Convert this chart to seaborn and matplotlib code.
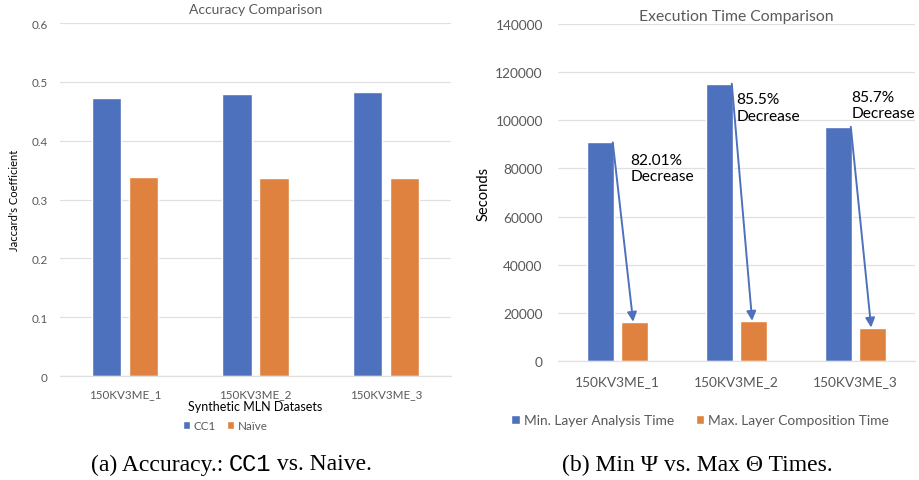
import matplotlib
matplotlib.use('Agg')
import matplotlib.pyplot as plt
import seaborn as sns
import pandas as pd

# data
datasets = ['150KV3ME_1', '150KV3ME_2', '150KV3ME_3']
acc_methods = ['CC1', 'Naïve']
acc_cc1 = [0.473, 0.480, 0.483]
acc_naive = [0.339, 0.337, 0.337]

time_series_names = ['Min. Layer Analysis Time', 'Max. Layer Composition Time']
time_min_layer = [90800, 115200, 97300]
time_max_layer = [16300, 16700, 13900]
decrease_labels = ['82.01%\nDecrease', '85.5%\nDecrease', '85.7%\nDecrease']

BLUE = '#4E71BE'
ORANGE = '#E0823F'
GREY = '#595959'
GRID = '#e0e0e0'

sns.set_theme(style='white')
plt.rcParams['font.family'] = ['Lato', 'DejaVu Sans']

acc_df = pd.DataFrame({
    'dataset': datasets * 2,
    'method': [acc_methods[0]] * 3 + [acc_methods[1]] * 3,
    'value': acc_cc1 + acc_naive,
})
time_df = pd.DataFrame({
    'dataset': datasets * 2,
    'series': [time_series_names[0]] * 3 + [time_series_names[1]] * 3,
    'value': time_min_layer + time_max_layer,
})

fig = plt.figure(figsize=(9.19, 4.81), dpi=100)
fig.patch.set_facecolor('white')

ax1 = fig.add_axes([0.0653, 0.2162, 0.4255, 0.7339])
ax2 = fig.add_axes([0.6072, 0.2474, 0.3885, 0.7006])


def style_axis(ax, tick_size):
    for side in ['top', 'right', 'left']:
        ax.spines[side].set_visible(False)
    ax.spines['bottom'].set_color(GRID)
    ax.spines['bottom'].set_linewidth(0.9)
    ax.yaxis.grid(True, color=GRID, linewidth=0.9)
    ax.set_axisbelow(True)
    ax.tick_params(axis='both', length=0, labelcolor=GREY, labelsize=tick_size)


# (a) accuracy
sns.barplot(data=acc_df, x='dataset', y='value', hue='method',
            palette=[BLUE, ORANGE], width=0.57, gap=0.21, ax=ax1,
            saturation=1, legend=True)
ax1.set_ylim(0, 0.6)
ax1.set_yticks([0, 0.1, 0.2, 0.3, 0.4, 0.5, 0.6])
ax1.set_yticklabels(['0', '0.1', '0.2', '0.3', '0.4', '0.5', '0.6'])
style_axis(ax1, 8.4)
ax1.tick_params(axis='y', pad=9)
ax1.tick_params(axis='x', pad=9)
ax1.set_title('Accuracy Comparison', color=GREY, fontsize=10, pad=7)
ax1.set_xlabel('Synthetic MLN Datasets', color='black', fontsize=9, labelpad=0)
ax1.set_ylabel("Jaccard's Coefficient", color='black', fontsize=8, labelpad=8)
h, l = ax1.get_legend_handles_labels()
ax1.legend(h, l, loc='center', bbox_to_anchor=(0.245, 0.113),
           bbox_transform=fig.transFigure, ncol=2, frameon=False,
           fontsize=8.4, labelcolor=GREY, handlelength=0.6, handleheight=0.6,
           handletextpad=0.3, columnspacing=1.0)

# (b) execution time
sns.barplot(data=time_df, x='dataset', y='value', hue='series',
            palette=[BLUE, ORANGE], width=0.57, gap=0.21, ax=ax2,
            saturation=1, legend=True)
ax2.set_ylim(0, 140000)
ax2.set_yticks(range(0, 140001, 20000))
style_axis(ax2, 9.9)
ax2.tick_params(axis='y', pad=11)
ax2.tick_params(axis='x', pad=10)
ax2.set_title('Execution Time Comparison', color=GREY, fontsize=11.3, pad=3)
ax2.set_xlabel('')
ax2.set_ylabel('Seconds', color='black', fontsize=10.6, labelpad=3)
h, l = ax2.get_legend_handles_labels()
ax2.legend(h, l, loc='center', bbox_to_anchor=(0.762, 0.1247),
           bbox_transform=fig.transFigure, ncol=2, frameon=False,
           fontsize=9.9, labelcolor=GREY, handlelength=0.6, handleheight=0.6,
           handletextpad=0.3, columnspacing=1.6)

# arrows from the top of each blue bar to the orange bar
blue_bars = ax2.containers[0]
orange_bars = ax2.containers[1]
text_offsets = [(0.11, 86300), (0.0, 111600), (-0.035, 112600)]
for i, (b, o) in enumerate(zip(blue_bars, orange_bars)):
    start = (b.get_x() + b.get_width() - 0.01, b.get_height())
    end = (o.get_x() + o.get_width() * 0.45, o.get_height())
    ax2.annotate('', xy=end, xytext=start,
                 arrowprops=dict(arrowstyle='-|>', color=BLUE, lw=1.4,
                                 mutation_scale=14, shrinkA=0, shrinkB=0))
    dx, ty = text_offsets[i]
    ax2.text(i + dx, ty, decrease_labels[i], ha='left', va='top',
             fontsize=11.2, color='black', linespacing=1.2)

# captions with mixed fonts
fig.canvas.draw()
renderer = fig.canvas.get_renderer()


def caption(pieces, xc, y):
    texts = []
    for s, fam in pieces:
        t = fig.text(0, y, s, family=fam, fontsize=17, color='black', va='center')
        texts.append(t)
    widths = [t.get_window_extent(renderer).width for t in texts]
    total = sum(widths)
    x = xc * fig.bbox.width - total / 2
    for t, w in zip(texts, widths):
        t.set_x(x / fig.bbox.width)
        x += w


caption([('(a) Accuracy.: ', 'Liberation Serif'), ('CC1', 'Liberation Mono'),
         (' vs. Naive.', 'Liberation Serif')], 0.252, 1 - 465 / 481)
caption([('(b) Min Ψ vs. Max Θ Times.', 'Liberation Serif')], 0.759, 1 - 465 / 481)

fig.savefig('out.png', dpi=100, facecolor='white')
